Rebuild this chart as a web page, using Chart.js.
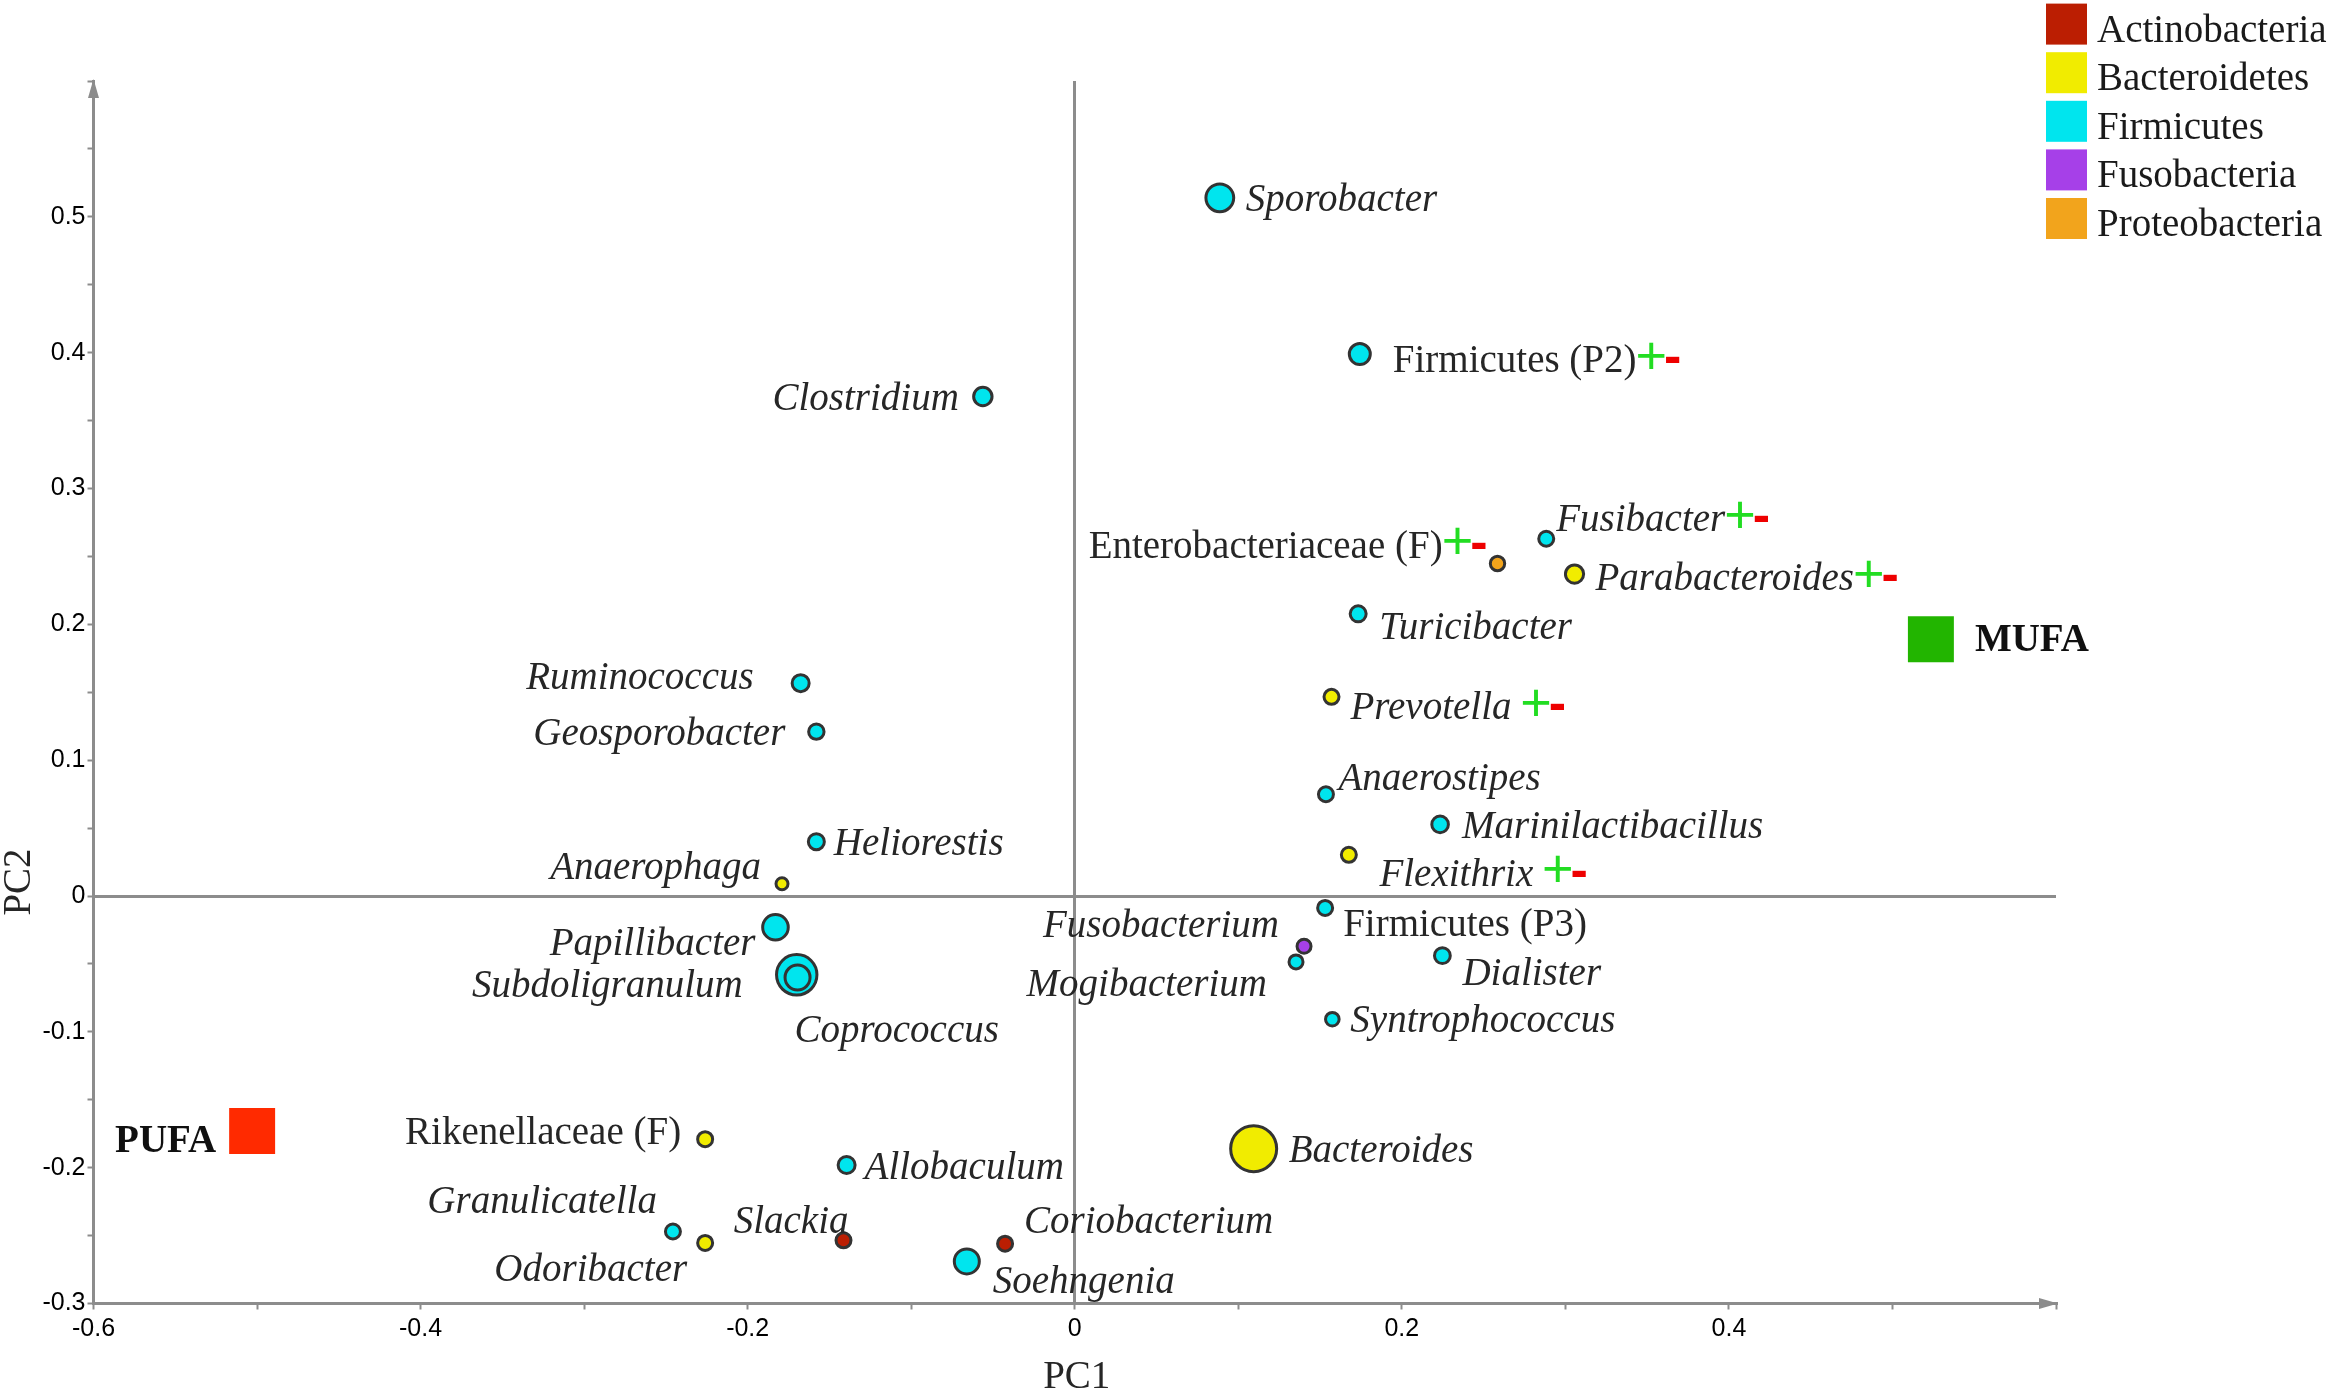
<!DOCTYPE html>
<html>
<head>
<meta charset="utf-8">
<script src="https://cdn.jsdelivr.net/npm/chart.js@4.4.1/dist/chart.umd.min.js"></script>
<style>
html,body{margin:0;padding:0;background:#ffffff;overflow:hidden}
#wrap{width:2333px;height:1393px;position:relative}
</style>
</head>
<body>
<div id="wrap"><canvas id="c"></canvas></div>
<script>
// ---------------- DATA ----------------
const phyla = ['Actinobacteria', 'Bacteroidetes', 'Firmicutes', 'Fusobacteria', 'Proteobacteria'];

const taxa = [
  'Sporobacter', 'Firmicutes (P2)', 'Clostridium', 'Fusibacter', 'Enterobacteriaceae (F)',
  'Parabacteroides', 'Turicibacter', 'Ruminococcus', 'Prevotella', 'Geosporobacter',
  'Anaerostipes', 'Marinilactibacillus', 'Heliorestis', 'Flexithrix', 'Anaerophaga',
  'Firmicutes (P3)', 'Papillibacter', 'Fusobacterium', 'Dialister', 'Mogibacterium',
  'Subdoligranulum', 'Coprococcus', 'Syntrophococcus', 'Rikenellaceae (F)', 'Bacteroides',
  'Allobaculum', 'Granulicatella', 'Odoribacter', 'Slackia', 'Coriobacterium', 'Soehngenia'
];
const pc1 = [
  0.0887, 0.1743, -0.0562, 0.2883, 0.2585,
  0.3056, 0.1733, -0.1676, 0.1570, -0.1580,
  0.1536, 0.2234, -0.1580, 0.1676, -0.1790,
  0.1531, -0.1830, 0.1402, 0.2248, 0.1353,
  -0.1700, -0.1695, 0.1575, -0.2260, 0.1094,
  -0.1395, -0.2457, -0.2260, -0.1414, -0.0426, -0.0660
];
const pc2 = [
  0.514, 0.399, 0.3677, 0.263, 0.2448,
  0.237, 0.2077, 0.1567, 0.1466, 0.121,
  0.0749, 0.0527, 0.040, 0.0303, 0.009,
  -0.0088, -0.023, -0.037, -0.0439, -0.0485,
  -0.058, -0.060, -0.0907, -0.179, -0.186,
  -0.198, -0.247, -0.2554, -0.2535, -0.256, -0.269
];
// phylum of each taxon (index into phyla)
const taxonPhylum = [
  2, 2, 2, 2, 4,
  1, 2, 2, 1, 2,
  2, 2, 2, 1, 1,
  2, 2, 3, 2, 2,
  2, 2, 2, 1, 1,
  2, 2, 1, 0, 0, 2
];
// "+-" annotation after the label
const plusMinus = [
  '', '+-', '', '+-', '+-',
  '+-', '', '', ' +-', '',
  '', '', '', ' +-', '',
  '', '', '', '', '',
  '', '', '', '', '',
  '', '', '', '', '', ''
];

const groups = ['PUFA', 'MUFA'];
const groupPC1 = [-0.503, 0.5235];
const groupPC2 = [-0.173, 0.189];

const xTickLabels = ['-0.6', '-0.4', '-0.2', '0', '0.2', '0.4'];
const yTickLabels = ['-0.3', '-0.2', '-0.1', '0', '0.1', '0.2', '0.3', '0.4', '0.5'];
const axisTitles = ['PC1', 'PC2'];

// ---------------- STYLE ----------------
const phylumColors = ['#bb1e02', '#f1ec00', '#00e5ee', '#a640e8', '#f2a41c'];
const groupColors = ['#ff2a00', '#22b500'];
// outer marker radius in px
const markerOuterRadius = [
  15.4, 12, 10.7, 9, 8.7,
  10.6, 9.5, 10, 9, 9.2,
  9, 9.8, 9.5, 9, 7.5,
  9, 14.3, 8.5, 9.4, 8.5,
  21.7, 14, 8.3, 9, 24.5,
  10, 9, 9, 9, 9, 14
];
// label placement: [side, dx, dy]  ('L' = text starts at dx, 'R' = text ends at dx)
const labelPlacement = [
  ['L', 26, 0], ['L', 33, 5], ['R', -24, 0], ['L', 10, -21], ['R', -10, -19],
  ['L', 21, 3], ['L', 21, 12], ['R', -47, -7], ['L', 19, 9], ['R', -31, 0],
  ['L', 12.6, -18], ['L', 22, 0], ['L', 17.5, 0], ['L', 30.6, 17.6], ['R', -21, -18],
  ['L', 18, 15], ['R', -20, 15], ['R', -25, -23], ['L', 20, 16], ['R', -29, 21],
  ['R', -54, 9], ['L', -3, 51], ['L', 18, 0], ['R', -24, -8], ['L', 35, 0],
  ['L', 18, 1], ['R', -16, -32], ['R', -18, 25], ['R', 5, -21], ['L', 19, -24], ['L', 26, 18]
];
const groupLabelPlacement = [['R', -36, 8], ['L', 44, -1]];
const LABEL_SHIFT_Y = 3;

const AXIS_GREY = '#8c8c8c';
const TEXT_COL = '#262626';
const LABEL_PX = 39;

// ---------------- CHART ----------------
function fmt(v) { return String(Math.round(v * 100) / 100 + 0); }

const datasets = [];
phyla.forEach((p, k) => {
  const pts = taxa.map((t, i) => ({ x: pc1[i], y: pc2[i], i })).filter(d => taxonPhylum[d.i] === k);
  datasets.push({
    label: p,
    data: pts,
    backgroundColor: phylumColors[k],
    borderColor: '#333333',
    borderWidth: 3,
    pointRadius: pts.map(d => markerOuterRadius[d.i] - 1.5),
    pointHoverRadius: pts.map(d => markerOuterRadius[d.i] - 1.5),
    pointStyle: 'circle',
    order: k === 2 ? 1 : 5
  });
});
datasets.push({
  label: 'groups',
  data: groups.map((g, i) => ({ x: groupPC1[i], y: groupPC2[i], i })),
  backgroundColor: groupColors,
  borderWidth: 0,
  pointStyle: 'rect',
  pointRadius: 32.5,
  pointHoverRadius: 32.5,
  order: 0
});

const decorPlugin = {
  id: 'decor',
  afterDatasetsDraw(chart) {
    const ctx = chart.ctx;
    ctx.save();
    chart.data.datasets.forEach((ds, di) => {
      const meta = chart.getDatasetMeta(di);
      meta.data.forEach((el, j) => {
        const raw = ds.data[j];
        let text, place, pm = '', font;
        if (ds.label === 'groups') {
          text = groups[raw.i];
          place = groupLabelPlacement[raw.i];
          font = 'bold ' + LABEL_PX + 'px "Liberation Serif"';
        } else {
          text = taxa[raw.i];
          place = labelPlacement[raw.i];
          pm = plusMinus[raw.i];
          const italic = text.indexOf('(') < 0;
          font = (italic ? 'italic ' : '') + LABEL_PX + 'px "Liberation Serif"';
        }
        ctx.font = font;
        let mainText = text;
        if (pm.startsWith(' ')) mainText = text + ' ';
        const tw = ctx.measureText(mainText).width;
        const plusFont = '54px "Liberation Sans"';
        const minusFont = 'bold 52px "Liberation Sans"';
        let plusW = 0, minusW = 0;
        if (pm) {
          ctx.font = plusFont; plusW = ctx.measureText('+').width;
          ctx.font = minusFont; minusW = ctx.measureText('-').width;
        }
        const total = tw + (pm ? plusW - 1 + minusW - 3 : 0);
        const cy = el.y + place[2] + LABEL_SHIFT_Y;
        const x0 = place[0] === 'L' ? el.x + place[1] : el.x + place[1] - total;
        ctx.textBaseline = 'middle';
        ctx.textAlign = 'left';
        ctx.font = font;
        ctx.fillStyle = ds.label === 'groups' ? '#101010' : TEXT_COL;
        ctx.fillText(mainText, x0, cy);
        if (pm) {
          const xp = x0 + tw - 1;
          ctx.font = plusFont;
          ctx.fillStyle = '#22dd22';
          ctx.fillText('+', xp, cy - 3);
          ctx.font = minusFont;
          ctx.fillStyle = '#ee0000';
          ctx.fillText('-', xp + plusW - 3, cy - 3);
        }
      });
    });
    ctx.restore();
  },
  afterDraw(chart) {
    const ctx = chart.ctx;
    const a = chart.chartArea;
    ctx.save();
    // arrow heads
    ctx.fillStyle = AXIS_GREY;
    ctx.beginPath();
    ctx.moveTo(a.left, a.top - 2);
    ctx.lineTo(a.left - 5.5, a.top + 17);
    ctx.lineTo(a.left + 5.5, a.top + 17);
    ctx.closePath();
    ctx.fill();
    ctx.beginPath();
    ctx.moveTo(a.right + 2, a.bottom);
    ctx.lineTo(a.right - 17, a.bottom - 5.5);
    ctx.lineTo(a.right - 17, a.bottom + 5.5);
    ctx.closePath();
    ctx.fill();
    // axis titles
    ctx.fillStyle = TEXT_COL;
    ctx.font = LABEL_PX + 'px "Liberation Serif"';
    ctx.textAlign = 'center';
    ctx.textBaseline = 'middle';
    ctx.fillText(axisTitles[0], (a.left + a.right) / 2 + 2, 1378);
    ctx.save();
    ctx.translate(20, 882);
    ctx.rotate(-Math.PI / 2);
    ctx.fillText(axisTitles[1], 0, 0);
    ctx.restore();
    // legend
    ctx.textAlign = 'left';
    ctx.textBaseline = 'alphabetic';
    phyla.forEach((p, k) => {
      const top = 3.6 + k * 48.6;
      ctx.fillStyle = phylumColors[k];
      ctx.fillRect(2046, top, 41, 41);
      ctx.fillStyle = '#1a1a1a';
      ctx.font = LABEL_PX + 'px "Liberation Serif"';
      ctx.fillText(p, 2097, top + 38);
    });
    ctx.restore();
  }
};

const zeroColor = ctx => (ctx.tick && Math.abs(ctx.tick.value) < 1e-9) ? AXIS_GREY : 'rgba(0,0,0,0)';

new Chart(document.getElementById('c'), {
  type: 'scatter',
  data: { datasets },
  options: {
    responsive: true,
    maintainAspectRatio: false,
    devicePixelRatio: 1,
    animation: false,
    events: [],
    layout: { padding: { top: 81, right: 277, left: 0, bottom: 0 } },
    plugins: { legend: { display: false }, tooltip: { enabled: false } },
    scales: {
      x: {
        type: 'linear',
        min: -0.6, max: 0.6,
        afterFit(s) { s.height = 89.5; },
        border: { display: true, color: AXIS_GREY, width: 3 },
        grid: { color: zeroColor, lineWidth: 3, drawOnChartArea: true, drawTicks: true, tickLength: 6, tickColor: AXIS_GREY, tickWidth: 2 },
        ticks: {
          stepSize: 0.1, autoSkip: false, maxRotation: 0, padding: 5,
          color: '#000', font: { family: '"Liberation Sans"', size: 25 },
          callback: v => { const s = fmt(v); return xTickLabels.includes(s) ? s : ''; }
        }
      },
      y: {
        type: 'linear',
        min: -0.3, max: 0.6,
        afterFit(s) { s.width = 93.5; },
        border: { display: true, color: AXIS_GREY, width: 3 },
        grid: { color: zeroColor, lineWidth: 3, drawOnChartArea: true, drawTicks: true, tickLength: 6, tickColor: AXIS_GREY, tickWidth: 2 },
        ticks: {
          stepSize: 0.05, autoSkip: false, padding: 2,
          color: '#000', font: { family: '"Liberation Sans"', size: 25 },
          callback: v => { const s = fmt(v); return yTickLabels.includes(s) ? s : ''; }
        }
      }
    }
  },
  plugins: [decorPlugin]
});
</script>
</body>
</html>
